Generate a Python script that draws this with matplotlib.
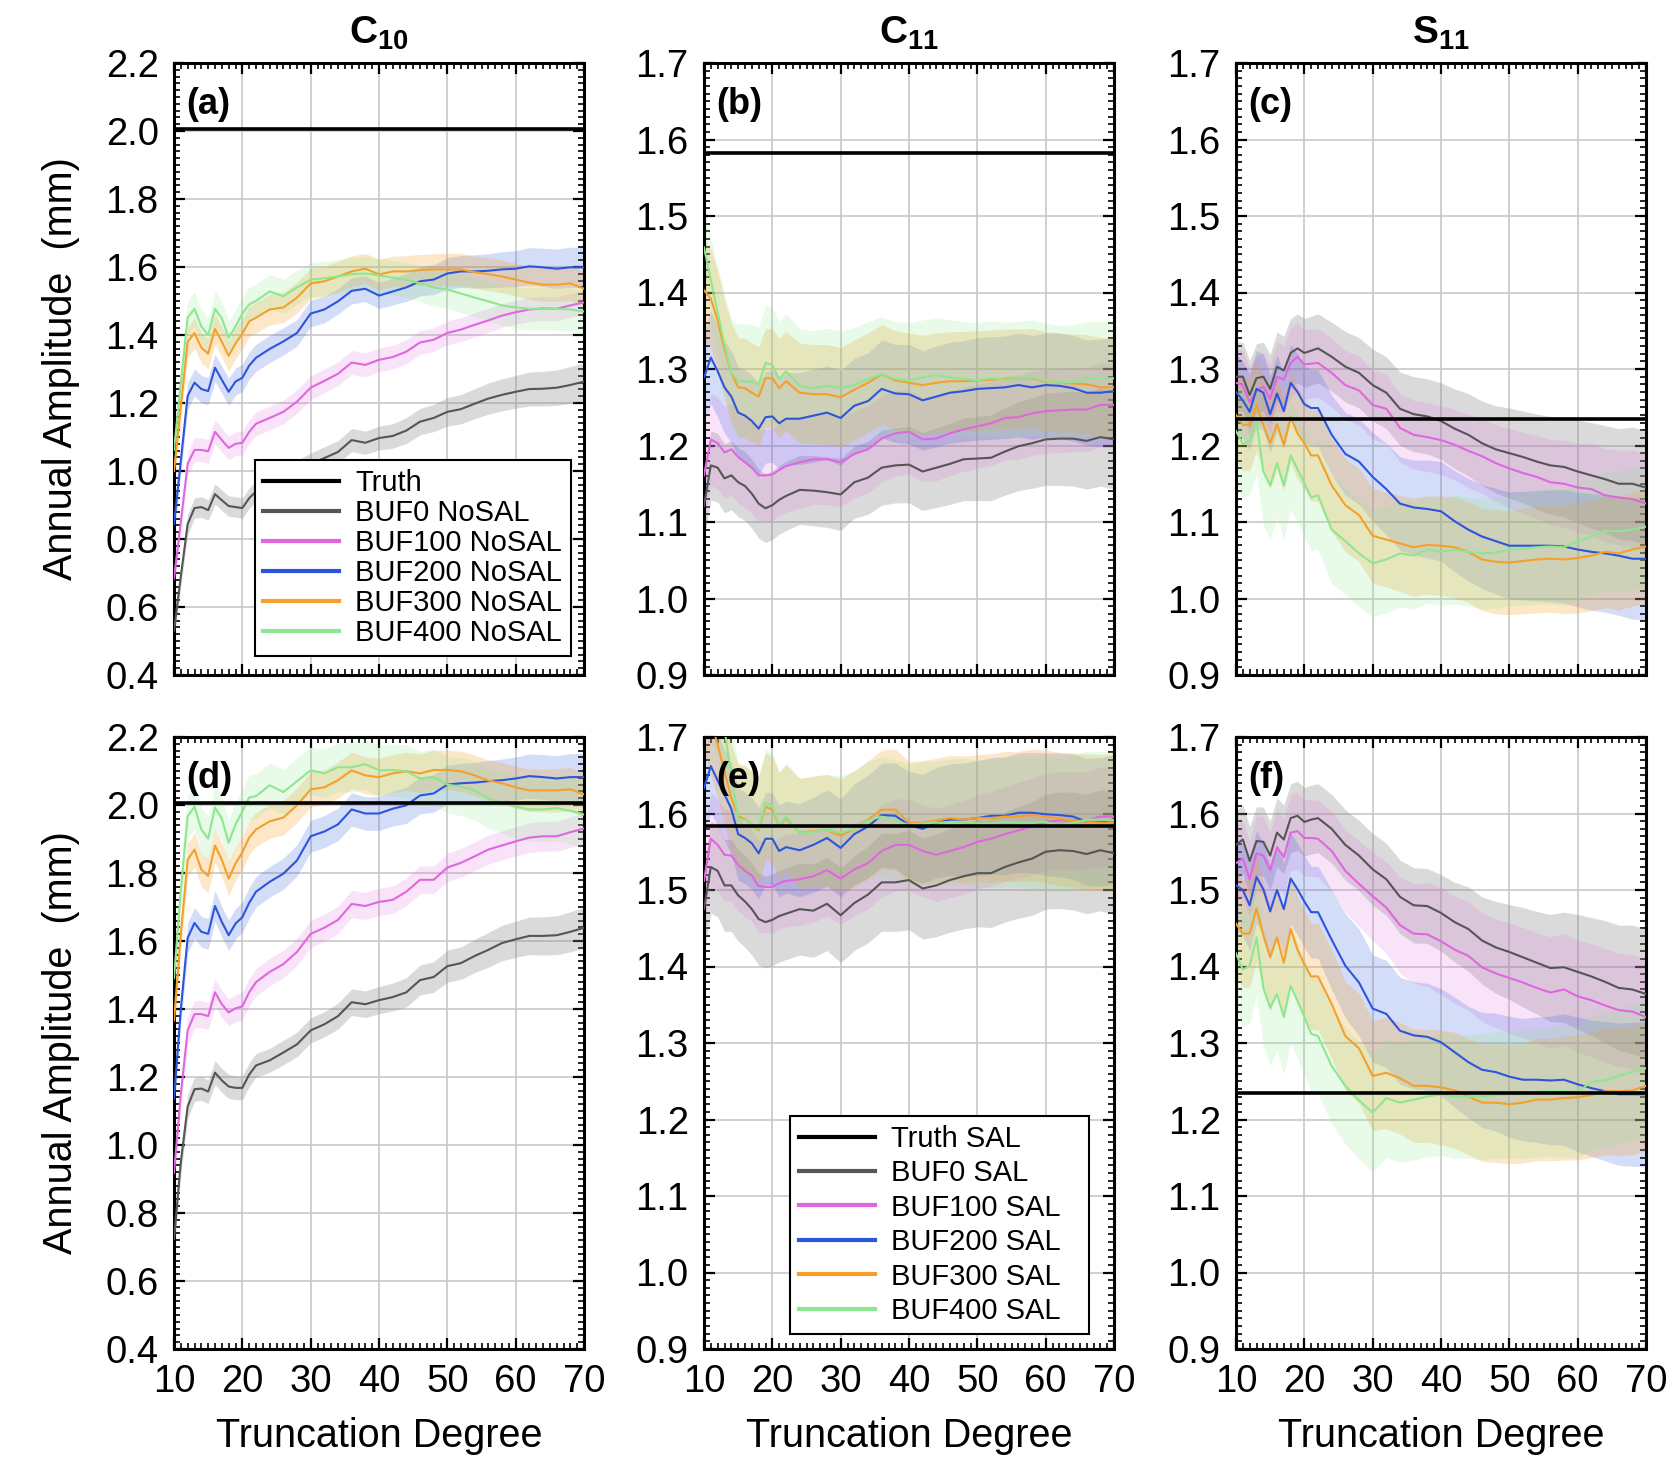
import matplotlib
matplotlib.use('Agg')
import matplotlib.pyplot as plt
from matplotlib.ticker import MultipleLocator, FormatStrFormatter
from matplotlib.lines import Line2D
import numpy as np

plt.rcParams['font.family'] = ['Liberation Sans', 'DejaVu Sans']
plt.rcParams['mathtext.fontset'] = 'custom'
plt.rcParams['mathtext.rm'] = 'Liberation Sans'
plt.rcParams['mathtext.bf'] = 'Liberation Sans:bold'

# ---------------- data ----------------
degree = [10, 11, 12, 13, 14, 15, 16, 17, 18, 19, 20, 21, 22,
          24, 26, 28, 30, 32, 34, 36, 38, 40, 42, 44, 46, 48, 50,
          52, 54, 56, 58, 60, 62, 64, 66, 68, 70]

truth = {'a': 2.005, 'b': 1.583, 'c': 1.235, 'd': 2.005, 'e': 1.584, 'f': 1.235}

# (a) C10 NoSAL
a_buf0 = [0.531, 0.69, 0.844, 0.891, 0.894, 0.885, 0.932, 0.914, 0.897, 0.894, 0.891, 0.92, 0.94,
          0.96, 0.98, 1.00, 1.021, 1.038, 1.056, 1.091, 1.083, 1.097, 1.103, 1.119, 1.145, 1.156, 1.174,
          1.182, 1.198, 1.213, 1.224, 1.233, 1.241, 1.242, 1.245, 1.253, 1.263]
a_buf100 = [0.684, 0.85, 1.021, 1.062, 1.062, 1.058, 1.115, 1.091, 1.068, 1.080, 1.083, 1.115, 1.139,
            1.156, 1.174, 1.204, 1.245, 1.265, 1.286, 1.319, 1.312, 1.327, 1.335, 1.351, 1.378, 1.386, 1.406,
            1.416, 1.430, 1.443, 1.457, 1.467, 1.475, 1.478, 1.477, 1.487, 1.496]
a_buf200 = [0.844, 1.03, 1.221, 1.260, 1.241, 1.235, 1.304, 1.268, 1.233, 1.263, 1.274, 1.31, 1.333,
            1.359, 1.381, 1.406, 1.463, 1.475, 1.499, 1.530, 1.536, 1.516, 1.528, 1.540, 1.558, 1.563, 1.581,
            1.587, 1.587, 1.589, 1.593, 1.595, 1.602, 1.599, 1.595, 1.599, 1.599]
a_buf300 = [1.0, 1.19, 1.38, 1.406, 1.363, 1.345, 1.418, 1.38, 1.339, 1.375, 1.404, 1.44, 1.451,
            1.475, 1.481, 1.510, 1.552, 1.558, 1.572, 1.587, 1.595, 1.578, 1.587, 1.587, 1.591, 1.593, 1.593,
            1.593, 1.585, 1.579, 1.572, 1.563, 1.554, 1.548, 1.548, 1.552, 1.536]
a_buf400 = [1.062, 1.26, 1.451, 1.477, 1.425, 1.40, 1.477, 1.449, 1.392, 1.425, 1.463, 1.49, 1.50,
            1.528, 1.514, 1.540, 1.563, 1.567, 1.572, 1.579, 1.581, 1.575, 1.569, 1.562, 1.552, 1.540, 1.534,
            1.522, 1.510, 1.499, 1.487, 1.481, 1.477, 1.477, 1.477, 1.475, 1.469]
a_sd0 = [0.03, 0.03, 0.03, 0.03, 0.03, 0.03, 0.03, 0.03, 0.03, 0.03, 0.03, 0.03, 0.03,
         0.03, 0.031, 0.031, 0.032, 0.033, 0.033, 0.034, 0.034, 0.035, 0.036, 0.038, 0.039, 0.04, 0.042,
         0.043, 0.044, 0.046, 0.047, 0.048, 0.05, 0.051, 0.052, 0.054, 0.055]
a_sd100 = [0.035, 0.035, 0.035, 0.035, 0.035, 0.035, 0.035, 0.035, 0.035, 0.035, 0.035, 0.035, 0.035,
           0.035, 0.035, 0.035, 0.035, 0.035, 0.035, 0.035, 0.035, 0.035, 0.035, 0.035, 0.035, 0.035, 0.035,
           0.035, 0.035, 0.035, 0.035, 0.035, 0.035, 0.035, 0.035, 0.035, 0.035]
a_sd200 = [0.04, 0.04, 0.04, 0.04, 0.04, 0.04, 0.04, 0.04, 0.04, 0.04, 0.04, 0.04, 0.04,
           0.04, 0.04, 0.039, 0.039, 0.039, 0.038, 0.038, 0.038, 0.038, 0.04, 0.041, 0.043, 0.044, 0.046,
           0.047, 0.049, 0.05, 0.052, 0.053, 0.055, 0.056, 0.058, 0.059, 0.06]
a_sd300 = [0.045, 0.045, 0.045, 0.045, 0.045, 0.045, 0.045, 0.045, 0.045, 0.045, 0.045, 0.045, 0.045,
           0.045, 0.045, 0.045, 0.045, 0.045, 0.045, 0.045, 0.045, 0.045, 0.045, 0.046, 0.046, 0.046, 0.047,
           0.047, 0.047, 0.048, 0.048, 0.048, 0.049, 0.049, 0.049, 0.05, 0.05]
a_sd400 = [0.05, 0.05, 0.05, 0.05, 0.05, 0.05, 0.05, 0.05, 0.05, 0.05, 0.05, 0.05, 0.05,
           0.05, 0.05, 0.05, 0.05, 0.05, 0.05, 0.05, 0.05, 0.05, 0.051, 0.052, 0.053, 0.054, 0.055,
           0.056, 0.057, 0.058, 0.059, 0.06, 0.061, 0.062, 0.063, 0.064, 0.065]

# (b) C11 NoSAL
b_buf0 = [1.121, 1.174, 1.171, 1.157, 1.161, 1.152, 1.147, 1.137, 1.124, 1.118, 1.122, 1.129, 1.134,
          1.142, 1.141, 1.139, 1.136, 1.152, 1.158, 1.171, 1.174, 1.175, 1.166, 1.171, 1.176, 1.182, 1.183,
          1.184, 1.192, 1.199, 1.203, 1.208, 1.209, 1.209, 1.206, 1.211, 1.208]
b_buf100 = [1.161, 1.208, 1.203, 1.191, 1.195, 1.185, 1.178, 1.171, 1.161, 1.161, 1.162, 1.168, 1.173,
            1.178, 1.182, 1.182, 1.178, 1.189, 1.195, 1.209, 1.216, 1.218, 1.208, 1.209, 1.216, 1.221, 1.225,
            1.229, 1.236, 1.237, 1.242, 1.245, 1.246, 1.247, 1.247, 1.253, 1.253]
b_buf200 = [1.289, 1.315, 1.297, 1.276, 1.264, 1.243, 1.239, 1.232, 1.222, 1.237, 1.238, 1.229, 1.235,
            1.235, 1.239, 1.243, 1.236, 1.252, 1.258, 1.274, 1.268, 1.267, 1.259, 1.264, 1.269, 1.271, 1.274,
            1.275, 1.276, 1.279, 1.276, 1.279, 1.278, 1.275, 1.269, 1.269, 1.271]
b_buf300 = [1.403, 1.392, 1.363, 1.326, 1.295, 1.276, 1.275, 1.269, 1.264, 1.288, 1.288, 1.275, 1.284,
            1.269, 1.267, 1.267, 1.263, 1.273, 1.282, 1.293, 1.285, 1.282, 1.279, 1.282, 1.284, 1.284, 1.285,
            1.286, 1.287, 1.287, 1.288, 1.284, 1.282, 1.281, 1.280, 1.276, 1.276]
b_buf400 = [1.459, 1.416, 1.374, 1.332, 1.295, 1.284, 1.284, 1.283, 1.280, 1.308, 1.305, 1.287, 1.297,
            1.278, 1.275, 1.278, 1.275, 1.279, 1.287, 1.293, 1.287, 1.285, 1.289, 1.292, 1.289, 1.287, 1.285,
            1.288, 1.286, 1.287, 1.289, 1.285, 1.282, 1.283, 1.287, 1.287, 1.288]
b_sd0 = [0.045, 0.045, 0.045, 0.045, 0.045, 0.045, 0.045, 0.045, 0.045, 0.045, 0.045, 0.045, 0.045,
         0.045, 0.046, 0.046, 0.047, 0.047, 0.048, 0.049, 0.049, 0.05, 0.051, 0.052, 0.053, 0.054, 0.055,
         0.056, 0.057, 0.058, 0.059, 0.06, 0.061, 0.062, 0.063, 0.064, 0.065]
b_sd100 = [0.06, 0.06, 0.06, 0.06, 0.06, 0.06, 0.06, 0.06, 0.06, 0.06, 0.06, 0.06, 0.06,
           0.06, 0.059, 0.059, 0.058, 0.057, 0.057, 0.056, 0.056, 0.055, 0.055, 0.055, 0.055, 0.055, 0.055,
           0.055, 0.055, 0.055, 0.055, 0.055, 0.055, 0.055, 0.055, 0.055, 0.055]
b_sd200 = [0.06, 0.06, 0.06, 0.06, 0.06, 0.06, 0.06, 0.06, 0.06, 0.06, 0.06, 0.06, 0.06,
           0.06, 0.061, 0.061, 0.062, 0.062, 0.063, 0.064, 0.064, 0.065, 0.065, 0.066, 0.066, 0.066, 0.067,
           0.067, 0.067, 0.068, 0.068, 0.068, 0.069, 0.069, 0.069, 0.07, 0.07]
b_sd300 = [0.065, 0.065, 0.065, 0.065, 0.065, 0.065, 0.065, 0.065, 0.065, 0.065, 0.065, 0.065, 0.065,
           0.065, 0.065, 0.065, 0.065, 0.065, 0.065, 0.065, 0.065, 0.065, 0.065, 0.065, 0.065, 0.065, 0.065,
           0.065, 0.065, 0.065, 0.065, 0.065, 0.065, 0.065, 0.065, 0.065, 0.065]
b_sd400 = [0.05, 0.055, 0.06, 0.065, 0.07, 0.075, 0.075, 0.075, 0.075, 0.075, 0.075, 0.075, 0.075,
           0.075, 0.075, 0.075, 0.075, 0.075, 0.075, 0.075, 0.075, 0.075, 0.075, 0.075, 0.075, 0.075, 0.075,
           0.075, 0.075, 0.075, 0.075, 0.075, 0.075, 0.075, 0.075, 0.075, 0.075]

# (c) S11 NoSAL
c_buf0 = [1.290, 1.290, 1.266, 1.288, 1.290, 1.274, 1.303, 1.298, 1.321, 1.327, 1.321, 1.324, 1.327,
          1.316, 1.303, 1.295, 1.279, 1.269, 1.248, 1.241, 1.238, 1.232, 1.222, 1.214, 1.203, 1.195, 1.190,
          1.185, 1.179, 1.174, 1.172, 1.166, 1.161, 1.156, 1.150, 1.150, 1.145]
c_buf100 = [1.282, 1.279, 1.256, 1.272, 1.277, 1.261, 1.290, 1.286, 1.308, 1.316, 1.306, 1.307, 1.308,
            1.295, 1.279, 1.272, 1.253, 1.248, 1.223, 1.214, 1.211, 1.207, 1.201, 1.193, 1.186, 1.177, 1.170,
            1.164, 1.159, 1.152, 1.150, 1.145, 1.143, 1.135, 1.132, 1.130, 1.124]
c_buf200 = [1.270, 1.259, 1.244, 1.274, 1.269, 1.241, 1.268, 1.245, 1.282, 1.270, 1.254, 1.249, 1.249,
            1.214, 1.189, 1.179, 1.159, 1.143, 1.124, 1.119, 1.117, 1.114, 1.101, 1.090, 1.081, 1.075, 1.069,
            1.069, 1.069, 1.069, 1.068, 1.064, 1.061, 1.059, 1.056, 1.052, 1.052]
c_buf300 = [1.240, 1.227, 1.227, 1.253, 1.227, 1.203, 1.228, 1.201, 1.237, 1.216, 1.203, 1.187, 1.187,
            1.148, 1.122, 1.109, 1.082, 1.077, 1.072, 1.067, 1.070, 1.069, 1.067, 1.061, 1.051, 1.048, 1.047,
            1.049, 1.051, 1.052, 1.051, 1.053, 1.056, 1.061, 1.059, 1.064, 1.068]
c_buf400 = [1.219, 1.202, 1.206, 1.232, 1.166, 1.148, 1.177, 1.148, 1.187, 1.169, 1.151, 1.132, 1.135,
            1.090, 1.075, 1.059, 1.046, 1.051, 1.059, 1.056, 1.064, 1.061, 1.064, 1.061, 1.059, 1.060, 1.064,
            1.065, 1.067, 1.068, 1.067, 1.075, 1.081, 1.088, 1.088, 1.090, 1.094]
c_sd0 = [0.045, 0.045, 0.045, 0.045, 0.045, 0.045, 0.045, 0.045, 0.045, 0.045, 0.045, 0.045, 0.045,
         0.045, 0.046, 0.046, 0.047, 0.047, 0.048, 0.049, 0.049, 0.05, 0.052, 0.054, 0.055, 0.057, 0.059,
         0.06, 0.062, 0.064, 0.065, 0.067, 0.069, 0.07, 0.072, 0.074, 0.075]
c_sd100 = [0.045, 0.045, 0.045, 0.045, 0.045, 0.045, 0.045, 0.045, 0.045, 0.045, 0.045, 0.045, 0.045,
           0.045, 0.045, 0.045, 0.045, 0.045, 0.045, 0.045, 0.045, 0.045, 0.046, 0.048, 0.049, 0.05, 0.052,
           0.053, 0.054, 0.056, 0.057, 0.058, 0.06, 0.061, 0.062, 0.064, 0.065]
c_sd200 = [0.05, 0.05, 0.05, 0.05, 0.05, 0.05, 0.05, 0.05, 0.05, 0.05, 0.05, 0.05, 0.05,
           0.052, 0.054, 0.056, 0.058, 0.06, 0.061, 0.062, 0.064, 0.065, 0.066, 0.067, 0.068, 0.069, 0.07,
           0.071, 0.072, 0.073, 0.074, 0.075, 0.076, 0.077, 0.078, 0.079, 0.08]
c_sd300 = [0.06, 0.06, 0.06, 0.06, 0.06, 0.06, 0.06, 0.06, 0.06, 0.06, 0.06, 0.06, 0.06,
           0.06, 0.061, 0.061, 0.062, 0.062, 0.063, 0.064, 0.064, 0.065, 0.066, 0.066, 0.067, 0.068, 0.068,
           0.069, 0.07, 0.07, 0.071, 0.072, 0.072, 0.073, 0.074, 0.074, 0.075]
c_sd400 = [0.07, 0.07, 0.07, 0.07, 0.07, 0.07, 0.07, 0.07, 0.07, 0.07, 0.07, 0.07, 0.07,
           0.07, 0.07, 0.07, 0.07, 0.07, 0.07, 0.07, 0.07, 0.07, 0.071, 0.071, 0.072, 0.073, 0.073,
           0.074, 0.075, 0.075, 0.076, 0.077, 0.077, 0.078, 0.079, 0.079, 0.08]

# (d) C10 SAL
d_buf0 = [0.723, 0.95, 1.113, 1.164, 1.166, 1.157, 1.213, 1.190, 1.172, 1.168, 1.168, 1.207, 1.234,
          1.249, 1.272, 1.296, 1.337, 1.355, 1.379, 1.420, 1.414, 1.426, 1.435, 1.449, 1.485, 1.494, 1.526,
          1.535, 1.556, 1.574, 1.594, 1.605, 1.615, 1.615, 1.617, 1.627, 1.639]
d_buf100 = [0.918, 1.15, 1.337, 1.385, 1.385, 1.379, 1.449, 1.414, 1.390, 1.402, 1.408, 1.449, 1.479,
            1.509, 1.532, 1.568, 1.621, 1.639, 1.662, 1.709, 1.703, 1.715, 1.721, 1.745, 1.780, 1.780, 1.816,
            1.830, 1.849, 1.869, 1.881, 1.893, 1.904, 1.908, 1.908, 1.920, 1.931]
d_buf200 = [1.136, 1.40, 1.609, 1.653, 1.627, 1.621, 1.703, 1.656, 1.617, 1.651, 1.670, 1.712, 1.745,
            1.774, 1.798, 1.837, 1.908, 1.922, 1.943, 1.987, 1.975, 1.975, 1.989, 1.999, 2.028, 2.034, 2.060,
            2.064, 2.066, 2.070, 2.073, 2.078, 2.085, 2.082, 2.078, 2.082, 2.082]
d_buf300 = [1.367, 1.62, 1.839, 1.869, 1.810, 1.792, 1.881, 1.839, 1.783, 1.828, 1.861, 1.904, 1.928,
            1.952, 1.963, 1.999, 2.046, 2.052, 2.073, 2.102, 2.087, 2.082, 2.093, 2.099, 2.093, 2.103, 2.103,
            2.099, 2.087, 2.072, 2.064, 2.052, 2.043, 2.043, 2.043, 2.046, 2.031]
d_buf400 = [1.491, 1.75, 1.967, 1.995, 1.928, 1.901, 1.993, 1.960, 1.889, 1.943, 1.981, 2.022, 2.026,
            2.058, 2.038, 2.070, 2.102, 2.093, 2.111, 2.111, 2.120, 2.102, 2.103, 2.099, 2.078, 2.082, 2.060,
            2.054, 2.043, 2.019, 2.007, 1.995, 1.987, 1.987, 1.991, 1.983, 1.972]
d_sd0 = [0.035, 0.035, 0.035, 0.035, 0.035, 0.035, 0.035, 0.035, 0.035, 0.035, 0.035, 0.035, 0.035,
         0.035, 0.036, 0.036, 0.037, 0.037, 0.038, 0.039, 0.039, 0.04, 0.041, 0.043, 0.044, 0.045, 0.047,
         0.048, 0.049, 0.051, 0.052, 0.053, 0.055, 0.056, 0.057, 0.059, 0.06]
d_sd100 = [0.04, 0.04, 0.04, 0.04, 0.04, 0.04, 0.04, 0.04, 0.04, 0.04, 0.04, 0.04, 0.04,
           0.04, 0.04, 0.04, 0.04, 0.04, 0.04, 0.04, 0.04, 0.04, 0.04, 0.041, 0.041, 0.041, 0.042,
           0.042, 0.042, 0.043, 0.043, 0.043, 0.044, 0.044, 0.044, 0.045, 0.045]
d_sd200 = [0.045, 0.045, 0.045, 0.045, 0.045, 0.045, 0.045, 0.045, 0.045, 0.045, 0.045, 0.045, 0.045,
           0.045, 0.046, 0.046, 0.047, 0.047, 0.048, 0.049, 0.049, 0.05, 0.051, 0.053, 0.054, 0.055, 0.057,
           0.058, 0.059, 0.061, 0.062, 0.063, 0.065, 0.066, 0.067, 0.069, 0.07]
d_sd300 = [0.05, 0.05, 0.05, 0.05, 0.05, 0.05, 0.05, 0.05, 0.05, 0.05, 0.05, 0.05, 0.05,
           0.05, 0.051, 0.051, 0.052, 0.052, 0.053, 0.054, 0.054, 0.055, 0.056, 0.056, 0.057, 0.058, 0.058,
           0.059, 0.06, 0.06, 0.061, 0.062, 0.062, 0.063, 0.064, 0.064, 0.065]
d_sd400 = [0.065, 0.065, 0.065, 0.065, 0.065, 0.065, 0.065, 0.065, 0.065, 0.065, 0.065, 0.065, 0.065,
           0.066, 0.067, 0.068, 0.07, 0.071, 0.072, 0.073, 0.074, 0.075, 0.077, 0.078, 0.08, 0.082, 0.083,
           0.085, 0.087, 0.088, 0.09, 0.092, 0.093, 0.095, 0.097, 0.098, 0.1]

# (e) C11 SAL
e_buf0 = [1.475, 1.530, 1.525, 1.506, 1.506, 1.493, 1.485, 1.475, 1.462, 1.458, 1.461, 1.466, 1.469,
          1.475, 1.473, 1.482, 1.467, 1.483, 1.494, 1.510, 1.510, 1.513, 1.502, 1.506, 1.513, 1.518, 1.522,
          1.522, 1.530, 1.536, 1.541, 1.550, 1.552, 1.551, 1.547, 1.552, 1.548]
e_buf100 = [1.512, 1.567, 1.559, 1.546, 1.545, 1.533, 1.525, 1.519, 1.505, 1.504, 1.504, 1.509, 1.512,
            1.514, 1.518, 1.526, 1.515, 1.527, 1.535, 1.551, 1.559, 1.559, 1.551, 1.546, 1.551, 1.556, 1.563,
            1.567, 1.573, 1.578, 1.583, 1.589, 1.591, 1.591, 1.591, 1.596, 1.596]
e_buf200 = [1.633, 1.662, 1.643, 1.625, 1.606, 1.573, 1.568, 1.561, 1.548, 1.567, 1.567, 1.551, 1.556,
            1.552, 1.559, 1.568, 1.555, 1.573, 1.583, 1.598, 1.597, 1.585, 1.580, 1.588, 1.592, 1.592, 1.594,
            1.597, 1.597, 1.601, 1.601, 1.599, 1.598, 1.596, 1.589, 1.589, 1.592]
e_buf300 = [1.75, 1.72, 1.69, 1.655, 1.62, 1.596, 1.593, 1.585, 1.578, 1.609, 1.605, 1.584, 1.594,
            1.575, 1.577, 1.578, 1.571, 1.580, 1.592, 1.605, 1.605, 1.588, 1.588, 1.591, 1.594, 1.592, 1.594,
            1.594, 1.596, 1.596, 1.598, 1.596, 1.593, 1.591, 1.589, 1.588, 1.588]
e_buf400 = [1.80, 1.77, 1.74, 1.71, 1.65, 1.592, 1.592, 1.585, 1.580, 1.614, 1.610, 1.584, 1.596,
            1.575, 1.576, 1.578, 1.575, 1.580, 1.591, 1.596, 1.591, 1.585, 1.587, 1.588, 1.589, 1.589, 1.587,
            1.587, 1.589, 1.588, 1.588, 1.589, 1.584, 1.588, 1.592, 1.592, 1.591]
e_sd0 = [0.06, 0.06, 0.06, 0.06, 0.06, 0.06, 0.06, 0.06, 0.06, 0.06, 0.06, 0.06, 0.06,
         0.06, 0.061, 0.061, 0.062, 0.062, 0.063, 0.064, 0.064, 0.065, 0.066, 0.067, 0.068, 0.069, 0.07,
         0.071, 0.072, 0.073, 0.074, 0.075, 0.076, 0.077, 0.078, 0.079, 0.08]
e_sd100 = [0.06, 0.06, 0.06, 0.06, 0.06, 0.06, 0.06, 0.06, 0.06, 0.06, 0.06, 0.06, 0.06,
           0.06, 0.06, 0.06, 0.06, 0.06, 0.06, 0.06, 0.06, 0.06, 0.06, 0.061, 0.061, 0.061, 0.062,
           0.062, 0.062, 0.063, 0.063, 0.063, 0.064, 0.064, 0.064, 0.065, 0.065]
e_sd200 = [0.06, 0.06, 0.06, 0.06, 0.06, 0.06, 0.06, 0.06, 0.06, 0.06, 0.06, 0.06, 0.06,
           0.061, 0.062, 0.063, 0.064, 0.066, 0.067, 0.068, 0.069, 0.07, 0.071, 0.072, 0.073, 0.074, 0.075,
           0.076, 0.077, 0.078, 0.079, 0.08, 0.081, 0.082, 0.083, 0.084, 0.085]
e_sd300 = [0.07, 0.07, 0.07, 0.07, 0.07, 0.07, 0.07, 0.07, 0.07, 0.07, 0.07, 0.07, 0.07,
           0.071, 0.072, 0.073, 0.074, 0.076, 0.077, 0.078, 0.079, 0.08, 0.081, 0.081, 0.082, 0.083, 0.083,
           0.084, 0.085, 0.085, 0.086, 0.087, 0.087, 0.088, 0.089, 0.089, 0.09]
e_sd400 = [0.07, 0.07, 0.07, 0.07, 0.07, 0.07, 0.07, 0.07, 0.07, 0.07, 0.07, 0.07, 0.07,
           0.071, 0.072, 0.073, 0.074, 0.076, 0.077, 0.078, 0.079, 0.08, 0.081, 0.081, 0.082, 0.083, 0.083,
           0.084, 0.085, 0.085, 0.086, 0.087, 0.087, 0.088, 0.089, 0.089, 0.09]

# (f) S11 SAL
f_buf0 = [1.559, 1.566, 1.538, 1.564, 1.563, 1.545, 1.575, 1.566, 1.594, 1.597, 1.589, 1.592, 1.594,
          1.580, 1.559, 1.545, 1.527, 1.514, 1.491, 1.480, 1.479, 1.470, 1.458, 1.449, 1.434, 1.425, 1.419,
          1.412, 1.405, 1.398, 1.399, 1.393, 1.387, 1.380, 1.372, 1.370, 1.364]
f_buf100 = [1.535, 1.541, 1.514, 1.548, 1.545, 1.526, 1.556, 1.543, 1.575, 1.577, 1.568, 1.568, 1.567,
            1.551, 1.525, 1.508, 1.492, 1.477, 1.454, 1.443, 1.442, 1.433, 1.422, 1.414, 1.399, 1.391, 1.385,
            1.379, 1.372, 1.366, 1.370, 1.361, 1.356, 1.349, 1.343, 1.341, 1.334]
f_buf200 = [1.506, 1.500, 1.480, 1.517, 1.501, 1.472, 1.500, 1.475, 1.515, 1.501, 1.485, 1.471, 1.471,
            1.435, 1.401, 1.379, 1.345, 1.338, 1.316, 1.310, 1.308, 1.301, 1.288, 1.275, 1.265, 1.262, 1.256,
            1.252, 1.252, 1.251, 1.252, 1.246, 1.241, 1.237, 1.233, 1.233, 1.233]
f_buf300 = [1.456, 1.443, 1.443, 1.476, 1.441, 1.412, 1.438, 1.405, 1.449, 1.422, 1.403, 1.387, 1.387,
            1.351, 1.309, 1.293, 1.257, 1.261, 1.254, 1.244, 1.244, 1.242, 1.238, 1.230, 1.222, 1.222, 1.220,
            1.222, 1.226, 1.226, 1.228, 1.229, 1.232, 1.237, 1.237, 1.238, 1.244]
f_buf400 = [1.417, 1.396, 1.401, 1.438, 1.372, 1.346, 1.364, 1.334, 1.375, 1.355, 1.334, 1.312, 1.309,
            1.270, 1.244, 1.225, 1.209, 1.228, 1.222, 1.226, 1.230, 1.233, 1.230, 1.230, 1.230, 1.232, 1.233,
            1.233, 1.236, 1.237, 1.237, 1.236, 1.249, 1.251, 1.257, 1.262, 1.267]
f_sd0 = [0.045, 0.045, 0.045, 0.045, 0.045, 0.045, 0.045, 0.045, 0.045, 0.045, 0.045, 0.045, 0.045,
         0.045, 0.046, 0.046, 0.047, 0.047, 0.048, 0.049, 0.049, 0.05, 0.052, 0.055, 0.057, 0.06, 0.062,
         0.065, 0.067, 0.07, 0.072, 0.075, 0.077, 0.08, 0.082, 0.084, 0.085]
f_sd100 = [0.05, 0.05, 0.05, 0.05, 0.05, 0.05, 0.05, 0.05, 0.05, 0.05, 0.05, 0.05, 0.05,
           0.052, 0.054, 0.056, 0.058, 0.06, 0.063, 0.065, 0.068, 0.07, 0.07, 0.071, 0.071, 0.071, 0.072,
           0.072, 0.072, 0.073, 0.073, 0.073, 0.074, 0.074, 0.074, 0.075, 0.075]
f_sd200 = [0.06, 0.06, 0.06, 0.06, 0.06, 0.06, 0.06, 0.06, 0.06, 0.06, 0.06, 0.06, 0.06,
           0.065, 0.068, 0.07, 0.07, 0.07, 0.07, 0.07, 0.07, 0.07, 0.072, 0.073, 0.075, 0.077, 0.079,
           0.08, 0.082, 0.084, 0.086, 0.088, 0.089, 0.091, 0.093, 0.094, 0.095]
f_sd300 = [0.07, 0.07, 0.07, 0.07, 0.07, 0.07, 0.07, 0.07, 0.07, 0.07, 0.07, 0.07, 0.07,
           0.071, 0.071, 0.072, 0.072, 0.073, 0.073, 0.074, 0.074, 0.075, 0.076, 0.076, 0.077, 0.078, 0.078,
           0.079, 0.08, 0.08, 0.081, 0.082, 0.082, 0.083, 0.084, 0.084, 0.085]
f_sd400 = [0.075, 0.075, 0.075, 0.075, 0.075, 0.075, 0.075, 0.075, 0.075, 0.075, 0.075, 0.075, 0.075,
           0.076, 0.076, 0.077, 0.077, 0.078, 0.078, 0.079, 0.079, 0.08, 0.081, 0.081, 0.082, 0.083, 0.083,
           0.084, 0.085, 0.085, 0.086, 0.087, 0.087, 0.088, 0.089, 0.089, 0.09]

labels_nosal = ['Truth', 'BUF0 NoSAL', 'BUF100 NoSAL', 'BUF200 NoSAL', 'BUF300 NoSAL', 'BUF400 NoSAL']
labels_sal = ['Truth SAL', 'BUF0 SAL', 'BUF100 SAL', 'BUF200 SAL', 'BUF300 SAL', 'BUF400 SAL']
col_titles = [r'$\mathbf{C}_{\mathbf{10}}$', r'$\mathbf{C}_{\mathbf{11}}$', r'$\mathbf{S}_{\mathbf{11}}$']

# ---------------- styling ----------------
line_colors = ['#555555', '#e066e0', '#2c55db', '#f5a02a', '#8ee68e']
band_colors = ['#8c8c8c', '#e066e0', '#2c55db', '#f5a02a', '#8ee68e']
band_alpha = [0.32, 0.18, 0.2, 0.25, 0.2]

panels = {
    'a': ([a_buf0, a_buf100, a_buf200, a_buf300, a_buf400], [a_sd0, a_sd100, a_sd200, a_sd300, a_sd400]),
    'b': ([b_buf0, b_buf100, b_buf200, b_buf300, b_buf400], [b_sd0, b_sd100, b_sd200, b_sd300, b_sd400]),
    'c': ([c_buf0, c_buf100, c_buf200, c_buf300, c_buf400], [c_sd0, c_sd100, c_sd200, c_sd300, c_sd400]),
    'd': ([d_buf0, d_buf100, d_buf200, d_buf300, d_buf400], [d_sd0, d_sd100, d_sd200, d_sd300, d_sd400]),
    'e': ([e_buf0, e_buf100, e_buf200, e_buf300, e_buf400], [e_sd0, e_sd100, e_sd200, e_sd300, e_sd400]),
    'f': ([f_buf0, f_buf100, f_buf200, f_buf300, f_buf400], [f_sd0, f_sd100, f_sd200, f_sd300, f_sd400]),
}

W, H = 1678, 1474
fig = plt.figure(figsize=(W / 100, H / 100), dpi=100)

lefts = [174, 704, 1236]
aw = 410
tops = [63, 737]
ah = 612
keys = [['a', 'b', 'c'], ['d', 'e', 'f']]

x = np.array(degree)
for r in range(2):
    for cidx in range(3):
        k = keys[r][cidx]
        ax = fig.add_axes([lefts[cidx] / W, 1 - (tops[r] + ah) / H, aw / W, ah / H])
        vals, sds = panels[k]
        for i in range(5):
            v = np.array(vals[i]); s = np.array(sds[i])
            ax.fill_between(x, v - s, v + s, color=band_colors[i], alpha=band_alpha[i], lw=0, zorder=2)
        for i in range(5):
            ax.plot(x, vals[i], color=line_colors[i], lw=1.5, zorder=3)
        ax.axhline(truth[k], color='black', lw=2.6, zorder=4)

        ax.set_xlim(10, 70)
        if cidx == 0:
            ax.set_ylim(0.4, 2.2)
            ax.yaxis.set_major_locator(MultipleLocator(0.2))
            ax.yaxis.set_minor_locator(MultipleLocator(0.02))
        else:
            ax.set_ylim(0.9, 1.7)
            ax.yaxis.set_major_locator(MultipleLocator(0.1))
            ax.yaxis.set_minor_locator(MultipleLocator(0.01))
        ax.yaxis.set_major_formatter(FormatStrFormatter('%.1f'))
        ax.xaxis.set_major_locator(MultipleLocator(10))
        ax.xaxis.set_minor_locator(MultipleLocator(1))
        ax.grid(True, which='major', color='#c8c8c8', lw=1.2, zorder=1)
        ax.set_axisbelow(True)
        ax.tick_params(which='both', direction='in', top=True, right=True,
                       labelsize=27.5, pad=11)
        ax.tick_params(which='major', length=8, width=1.6)
        ax.tick_params(which='minor', length=4, width=1.2)
        for sp in ax.spines.values():
            sp.set_linewidth(2.2)
        if r == 0:
            ax.tick_params(labelbottom=False)
            ax.set_title(col_titles[cidx], fontsize=28, pad=14)
        else:
            ax.set_xlabel('Truncation Degree', fontsize=28.5, labelpad=12)
        ax.text(0.03, 0.932, '(' + k + ')', transform=ax.transAxes, fontsize=26,
                fontweight='bold', ha='left', va='center', zorder=6)

        if k in ('a', 'e'):
            labs = labels_nosal if k == 'a' else labels_sal
            handles = [Line2D([], [], color='black', lw=3)] + \
                      [Line2D([], [], color=line_colors[i], lw=3) for i in range(5)]
            if k == 'a':
                leg = ax.legend(handles, labs, loc='lower right', bbox_to_anchor=(0.968, 0.031),
                                fontsize=21, frameon=True, fancybox=False, framealpha=1,
                                edgecolor='black', handlelength=2.6, handletextpad=0.55,
                                labelspacing=0.07, borderpad=0.3, borderaxespad=0)
            else:
                leg = ax.legend(handles, labs, loc='lower left',
                                bbox_to_anchor=(0.21, 0.025, 0.73, 0.35), mode='expand',
                                fontsize=21, frameon=True, fancybox=False, framealpha=1,
                                edgecolor='black', handlelength=2.6, handletextpad=0.55,
                                labelspacing=0.22, borderpad=0.3, borderaxespad=0)
            leg.get_frame().set_linewidth(1.5)
            leg.set_zorder(7)

for r in range(2):
    yc = 1 - (tops[r] + ah / 2) / H
    fig.text(61 / W, yc, 'Annual Amplitude  (mm)', rotation=90, fontsize=28.5,
             ha='center', va='center')

fig.savefig('out.png', dpi=100)
